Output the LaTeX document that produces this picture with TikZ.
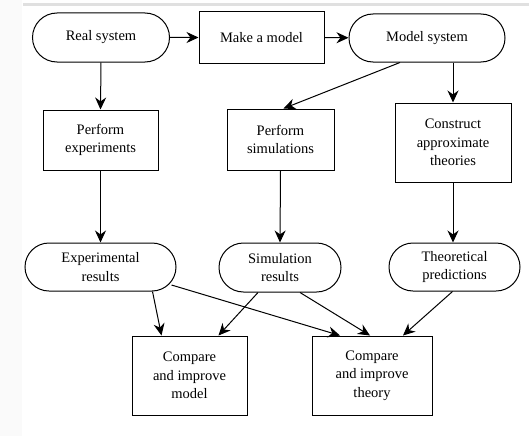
\documentclass[tikz,border=0pt]{standalone}
\usepackage{fontspec}
\setmainfont{Liberation Serif}
\usetikzlibrary{shapes.misc,arrows.meta}
\begin{document}
\begin{tikzpicture}[x=1pt,y=-1pt,
	font=\fontsize{14.5}{18.5}\selectfont,
	box/.style={draw,line width=1pt,align=center,inner sep=2pt},
	term/.style={box,rounded rectangle},
	>={Stealth[length=12pt,width=11pt]}]
	\useasboundingbox (0,0) rectangle (529,436);
	\fill[black!2] (0,0) rectangle (22,436);
	\fill[black!12] (23,3) rectangle (529,6);
	
	\node[term,minimum width=141pt,minimum height=49pt] (real) at (101,37.5) {Real system};
	\node[box,minimum width=125pt,minimum height=51pt] (make) at (261.5,37.5) {Make a model};
	\node[term,minimum width=160pt,minimum height=48pt] (modsys) at (427,38) {Model system};
	
	\node[box,minimum width=115pt,minimum height=60pt] (exp) at (100.5,140) {Perform\\experiments};
	\node[box,minimum width=107pt,minimum height=61pt] (sim) at (280.5,139.5) {Perform\\simulations};
	\node[box,minimum width=116pt,minimum height=79pt] (constr) at (453,142.5) {Construct\\approximate\\theories};
	
	\node[term,minimum width=155pt,minimum height=48pt] (expres) at (100.5,267) {Experimental\\results};
	\node[term,minimum width=126pt,minimum height=49pt] (simres) at (280,267.5) {Simulation\\results};
	\node[term,minimum width=135pt,minimum height=48pt] (theopred) at (454.5,267) {Theoretical\\predictions};
	
	\node[box,minimum width=115pt,minimum height=79pt] (cmpmodel) at (189.5,375.5) {Compare\\and improve\\model};
	\node[box,minimum width=120pt,minimum height=79pt] (cmptheory) at (372,375.5) {Compare\\and improve\\theory};
	
	\path[->,line width=1pt] (real) edge (make)
	(make) edge (modsys)
	(real.south) edge (exp.north)
	([xshift=-27pt]modsys.south) edge ([xshift=3pt]sim.north)
	([xshift=26pt]modsys.south) edge (constr.north)
	(exp.south) edge (expres.north)
	(sim.south) edge (simres.north)
	(constr.south) edge (constr.south |- theopred.north)
	([xshift=52pt]expres.south) edge ([xshift=-28pt]cmpmodel.north)
	([xshift=71pt,yshift=-18pt]expres.center) edge ([xshift=-32pt]cmptheory.north)
	([xshift=-22pt]simres.south) edge ([xshift=29pt]cmpmodel.north)
	([xshift=20pt]simres.south) edge ([xshift=-2pt]cmptheory.north)
	([xshift=-2pt]theopred.south) edge ([xshift=31pt]cmptheory.north);
\end{tikzpicture}
\end{document}
